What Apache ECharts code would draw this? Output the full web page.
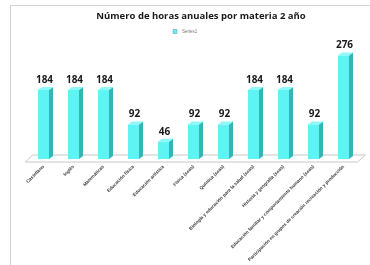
<!DOCTYPE html>
<html><head><meta charset="utf-8">
<script src="https://cdn.jsdelivr.net/npm/echarts@6/dist/echarts.min.js"></script>
<style>html,body{margin:0;padding:0;background:#fff}#c{width:370px;height:265px}</style>
</head><body><div id="c"></div>
<script>
var categories = ["Castellano","Inglés","Matemáticas","Educación física","Educación artística","Física (seas)","Química (seas)","Biología y educación para la salud (seas)","Historia y geografía (seas)","Educación familiar y comportamiento humano (seas)","Participación en grupos de creación recreación y producción"];
var values = [184,184,184,92,46,92,92,184,184,92,276];
var seriesName = "Series1";
var titleText = "Número de horas anuales por materia 2 año";

var chart = echarts.init(document.getElementById('c'), null, {renderer:'canvas'});
var W = 11, DX = 4, DY = 3;
function renderItem(params, api){
  var idx = api.value(0), v = api.value(1);
  var top = api.coord([idx, v]);
  var base = api.coord([idx, 0]);
  var x0 = top[0] - W/2, x1 = top[0] + W/2;
  var children = [];
  if (params.dataIndex === 0) {
    var cs = params.coordSys;
    var fy = base[1] + 3;
    children.push({type:'polygon', silent:true, z2:0, shape:{points:[[cs.x-3, fy],[cs.x+cs.width-1, fy],[cs.x+cs.width+7, fy-7],[cs.x+4, fy-7]]},
      style:{fill:'rgba(0,0,0,0)', stroke:'#c8c8c8', lineWidth:1}});
  }
  children.push({type:'polygon', z2:2, shape:{points:[[x1, top[1]],[x1+DX, top[1]-DY],[x1+DX, base[1]-DY],[x1, base[1]]]}, style:{fill:'#35b5b5'}});
  children.push({type:'polygon', z2:2, shape:{points:[[x0, top[1]],[x0+DX, top[1]-DY],[x1+DX, top[1]-DY],[x1, top[1]]]}, style:{fill:'#8ef7f7'}});
  children.push({type:'rect', z2:3, shape:{x:x0, y:top[1], width:W, height:base[1]-top[1]}, style:{fill:'#5ef4f4'}});
  children.push({type:'text', z2:4, style:{text:String(v), x:top[0]+1, y:top[1]-DY-2, align:'center', verticalAlign:'bottom', font:'bold 10px "Open Sans", "Liberation Sans", sans-serif', fill:'#1a1a1a'}});
  return {type:'group', children:children};
}
chart.setOption({
  animation:false,
  graphic:[{type:'rect', shape:{x:10.5, y:5.5, width:380, height:300}, style:{fill:'none', stroke:'#d4d4d4', lineWidth:1}, silent:true}],
  title:{text:titleText, left:196, top:6, textAlign:'center', textStyle:{fontSize:9.5, fontWeight:'bold', color:'#1a1a1a', fontFamily:'"Open Sans", sans-serif'}},
  legend:{data:[{name:seriesName, icon:'rect'}], left:'center', top:24, itemWidth:4, itemHeight:4, itemGap:2, textStyle:{fontSize:4.5, color:'#777'}, itemStyle:{color:'#5ef4f4', borderColor:'#6688cc', borderWidth:0.5}},
  grid:{left:28.5, right:11.5, top:46.5, bottom:106},
  xAxis:{type:'category', data:categories, axisLine:{show:false}, axisTick:{show:false},
    axisLabel:{interval:0, rotate:45, fontSize:4.6, fontWeight:'bold', color:'#3a3a3a', margin:7, fontFamily:'"Liberation Sans", sans-serif'}},
  yAxis:{type:'value', min:0, max:300, show:false},
  series:[{name:seriesName, type:'custom', renderItem:renderItem, itemStyle:{color:'#5ef4f4'},
    encode:{x:0, y:1}, data:values.map(function(v,i){return [i,v];})}]
});
</script></body></html>
